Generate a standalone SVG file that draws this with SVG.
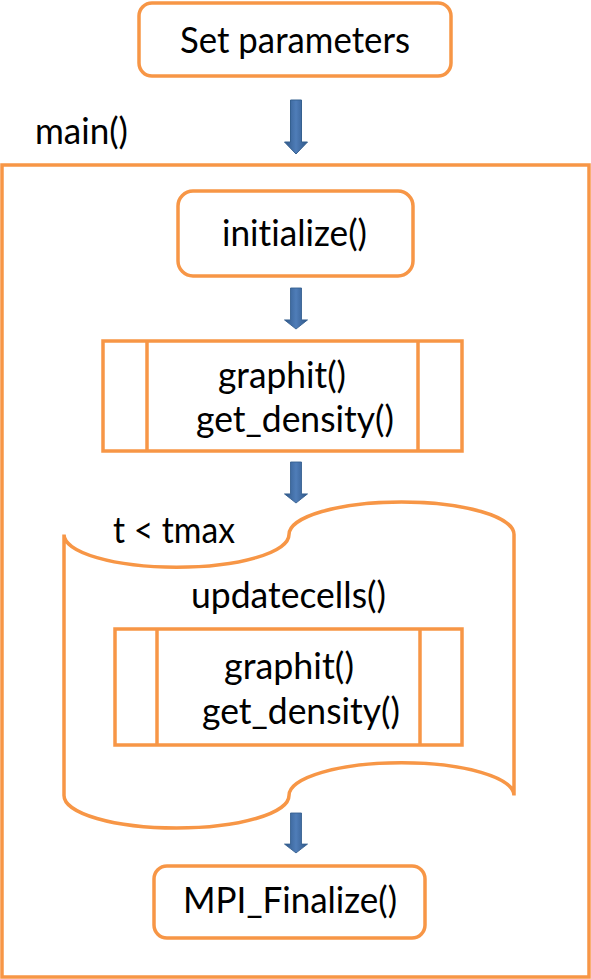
<svg xmlns="http://www.w3.org/2000/svg" width="591" height="979" viewBox="0 0 591 979">
<defs>
<linearGradient id="shaft" x1="0" y1="0" x2="1" y2="0">
<stop offset="0" stop-color="#2F5788"/>
<stop offset="0.5" stop-color="#4F7DB8"/>
<stop offset="1" stop-color="#2F5788"/>
</linearGradient>
<symbol id="arrow" overflow="visible">
<path d="M-5.5,0 H5.5 V42 H11.5 L0,54 L-11.5,42 H-5.5 Z" fill="url(#shaft)" stroke="#35608F" stroke-width="1"/>
</symbol>
</defs>
<style>
.box{fill:#fff;stroke:#F79646;stroke-width:3.5}
.ln{stroke:#F79646;stroke-width:3.5;fill:none}
.t{font-family:Lato,"Liberation Sans",sans-serif;font-size:36px;fill:#000;font-variant-ligatures:none}
</style>
<rect x="0" y="0" width="591" height="979" fill="#fff"/>

<g id="set-parameters">
<rect class="box" x="139" y="3" width="312" height="73" rx="13"/>
<text class="t" x="180" y="53" textLength="230" lengthAdjust="spacingAndGlyphs">Set parameters</text>
</g>

<g id="main">
<rect class="box" x="2" y="165" width="587" height="812" fill="none"/>
<text class="t" x="35" y="144" textLength="93" lengthAdjust="spacingAndGlyphs">main()</text>
</g>

<g id="initialize">
<rect class="box" x="178" y="191" width="235" height="85" rx="15"/>
<text class="t" x="222" y="246" textLength="145" lengthAdjust="spacingAndGlyphs">initialize()</text>
</g>

<g id="graphit-1">
<rect class="box" x="103" y="341" width="359" height="110"/>
<line class="ln" x1="147" y1="341" x2="147" y2="451"/>
<line class="ln" x1="418" y1="341" x2="418" y2="451"/>
<text class="t" x="218" y="388" textLength="128" lengthAdjust="spacingAndGlyphs">graphit()</text>
<text class="t" x="196" y="432" textLength="198" lengthAdjust="spacingAndGlyphs">get_density()</text>
</g>

<g id="loop">
<path class="ln" d="M64,534.6 A112.5,32.6 0 0 0 289,534.6 A112.5,32.6 0 0 1 514,534.6 L514,795.4 A112.5,32.6 0 0 0 289,795.4 A112.5,32.6 0 0 1 64,795.4 Z" fill="#fff"/>
<text class="t" x="113" y="543" textLength="122" lengthAdjust="spacingAndGlyphs">t &lt; tmax</text>
<text class="t" x="191" y="608" textLength="195" lengthAdjust="spacingAndGlyphs">updatecells()</text>
</g>

<g id="graphit-2">
<rect class="box" x="115" y="629" width="347" height="116"/>
<line class="ln" x1="157" y1="629" x2="157" y2="745"/>
<line class="ln" x1="420" y1="629" x2="420" y2="745"/>
<text class="t" x="224" y="679" textLength="130" lengthAdjust="spacingAndGlyphs">graphit()</text>
<text class="t" x="202" y="724" textLength="198" lengthAdjust="spacingAndGlyphs">get_density()</text>
</g>

<g id="mpi-finalize">
<rect class="box" x="154" y="866" width="271" height="72" rx="13"/>
<text class="t" x="183" y="913" textLength="214" lengthAdjust="spacingAndGlyphs">MPI_Finalize()</text>
</g>

<g id="connectors">
<use href="#arrow" x="296" y="100"/>
<use href="#arrow" transform="translate(296,288) scale(1,0.76)"/>
<use href="#arrow" transform="translate(296,462) scale(1,0.76)"/>
<use href="#arrow" transform="translate(296,813) scale(1,0.74)"/>
</g>
</svg>
